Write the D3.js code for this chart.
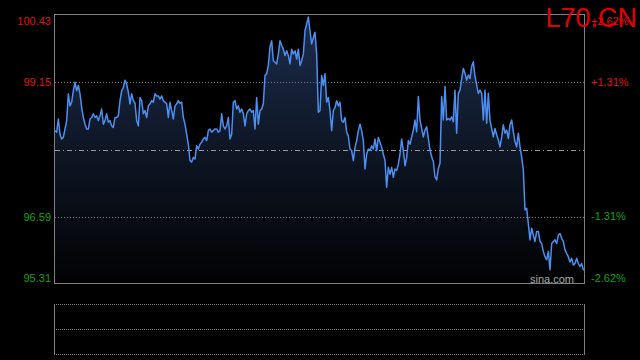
<!DOCTYPE html>
<html>
<head>
<meta charset="utf-8">
<script src="https://cdn.jsdelivr.net/npm/d3@7"></script>
<style>
  html, body { margin: 0; padding: 0; background: #000; }
  svg { display: block; font-family: Arial, "Liberation Sans", sans-serif; }
</style>
</head>
<body>
<script>
// Chart data (intraday price)
var symbol = "L70.CN";
var prevClose = 97.87;
var priceTicks = [100.43, 99.15, 97.87, 96.59, 95.31];
var pctTicks = ["+2.62%", "+1.31%", "", "-1.31%", "-2.62%"];

var prices = [
  98.23, 98.20, 98.45, 98.16, 98.07, 98.10, 98.26, 98.42, 98.93, 98.70,
  98.77, 98.99, 99.15, 98.99, 99.09, 98.93, 98.67, 98.48, 98.35, 98.26,
  98.26, 98.45, 98.48, 98.55, 98.48, 98.51, 98.42, 98.51, 98.64, 98.35,
  98.42, 98.55, 98.39, 98.42, 98.32, 98.29, 98.48, 98.48, 98.51, 98.80,
  98.99, 99.05, 99.19, 99.12, 98.96, 98.74, 98.93, 98.80, 98.75, 98.42,
  98.32, 98.86, 98.80, 98.55, 98.61, 98.48, 98.70, 98.74, 98.80, 98.77,
  98.93, 98.89, 98.89, 98.83, 98.89, 98.80, 98.77, 98.74, 98.48, 98.77,
  98.61, 98.45, 98.70, 98.74, 98.80, 98.75, 98.77, 98.48, 98.35, 98.16,
  97.97, 97.66, 97.63, 97.72, 97.69, 97.94, 97.88, 97.97, 98.01, 98.07,
  98.10, 98.04, 98.23, 98.26, 98.20, 98.23, 98.26, 98.26, 98.20, 98.23,
  98.55, 98.32, 98.26, 98.32, 98.48, 98.07, 98.16, 98.77, 98.80,
  // second part
  98.64, 98.70, 98.58, 98.64, 98.55, 98.32, 98.55, 98.61, 98.64, 98.58,
  98.61, 98.26, 98.86, 98.35, 98.61, 98.64, 98.74, 99.28, 99.31, 99.47,
  99.82, 99.94, 99.56, 99.53, 99.50, 99.69, 99.94, 99.85, 99.78, 99.66,
  99.75, 99.66, 99.50, 99.78, 99.69, 99.75, 99.59, 99.78, 99.47, 99.56,
  99.69, 100.13, 100.26, 100.39, 100.13, 99.88, 100.00, 100.10, 99.69, 98.58,
  98.61, 99.28, 99.09, 99.31, 98.77, 98.86, 98.61, 98.23, 98.61, 98.67,
  98.80, 98.70, 98.77, 98.42, 98.39, 98.48, 98.20, 98.13, 97.88, 97.85,
  97.66, 97.91, 98.04, 98.23, 98.35, 98.23, 98.04, 97.50, 97.78, 97.88,
  97.85, 97.94, 97.88, 98.07, 97.85, 98.10, 98.01, 97.91, 97.78, 97.66,
  97.15, 97.53, 97.40, 97.53, 97.34, 97.50, 97.47, 97.59, 97.78, 98.07,
  97.85, 97.56, 97.72, 98.04, 97.97,
  // third part
  98.11, 98.24, 98.43, 98.21, 98.88, 98.43, 98.27, 98.11, 98.24, 98.30,
  98.08, 97.86, 97.73, 97.64, 97.35, 97.29, 97.51, 97.61, 98.88, 98.43,
  99.07, 98.43, 98.46, 98.43, 98.49, 98.40, 99.00, 98.18, 98.94, 99.00,
  99.22, 99.41, 99.32, 99.19, 99.29, 99.22, 99.45, 99.54, 99.26, 99.10,
  98.94, 99.00, 98.94, 98.43, 99.00, 98.37, 98.94, 98.43, 98.27, 98.11,
  98.27, 98.15, 98.05, 97.92, 98.11, 98.34, 98.18, 98.24, 98.08, 98.34,
  98.43, 98.21, 98.02, 97.92, 98.18, 97.92, 97.73, 97.48, 96.72, 96.75,
  96.46, 96.15, 96.37, 96.24, 96.12, 96.31, 96.31, 96.12, 96.08, 95.93,
  95.83, 95.77, 95.93, 95.58, 96.08, 96.12, 96.15, 96.08, 96.24, 96.27,
  96.18, 96.12, 95.96, 95.89, 95.83, 95.73, 95.80, 95.67, 95.70, 95.80,
  95.70, 95.64, 95.70, 95.58, 95.58
];

var svgWidth = 640;
var svgHeight = 360;

var chartMargin = { top: 15, left: 55, right: 55, bottom: 76 };
var chartWidth = svgWidth - chartMargin.left - chartMargin.right;   // 530
var chartHeight = svgHeight - chartMargin.top - chartMargin.bottom; // 269

var svg = d3.select("body")
  .append("svg")
  .attr("width", svgWidth)
  .attr("height", svgHeight);

svg.append("rect")
  .attr("width", svgWidth)
  .attr("height", svgHeight)
  .attr("fill", "#000");

var defs = svg.append("defs");
var grad = defs.append("linearGradient")
  .attr("id", "areaFill")
  .attr("x1", 0).attr("y1", 0).attr("x2", 0).attr("y2", 1);
grad.append("stop").attr("offset", "0%").attr("stop-color", "#1c2d4e");
grad.append("stop").attr("offset", "45%").attr("stop-color", "#0f1828");
grad.append("stop").attr("offset", "100%").attr("stop-color", "#020203");

var chartGroup = svg.append("g")
  .attr("transform", `translate(${chartMargin.left}, ${chartMargin.top})`);

var xScale = d3.scaleLinear()
  .domain([0, prices.length - 1])
  .range([0, chartWidth]);

var yScale = d3.scaleLinear()
  .domain([priceTicks[priceTicks.length - 1], priceTicks[0]])
  .range([chartHeight, 0]);

// area under line
var area = d3.area()
  .x((d, i) => xScale(i))
  .y0(chartHeight)
  .y1(d => yScale(d));

chartGroup.append("path")
  .datum(prices)
  .attr("d", area)
  .attr("fill", "url(#areaFill)");

// grid lines
priceTicks.slice(1, -1).forEach(function(p) {
  var y = Math.round(yScale(p)) + 0.5;
  chartGroup.append("line")
    .attr("x1", 0).attr("x2", chartWidth)
    .attr("y1", y).attr("y2", y)
    .attr("stroke", p === prevClose ? "#9a9a9a" : "#7a7a7a")
    .attr("stroke-width", 1)
    .attr("stroke-dasharray", p === prevClose ? "5,3,1,3" : "1,2");
});

// price line
var line = d3.line()
  .x((d, i) => xScale(i))
  .y(d => yScale(d));

chartGroup.append("path")
  .datum(prices)
  .attr("d", line)
  .attr("fill", "none")
  .attr("stroke", "#4d8ff0")
  .attr("stroke-width", 1.5)
  .attr("stroke-linejoin", "round");

// frame
chartGroup.append("rect")
  .attr("x", -0.5).attr("y", -0.5)
  .attr("width", chartWidth).attr("height", chartHeight)
  .attr("fill", "none")
  .attr("stroke", "#808080")
  .attr("stroke-width", 1);

// left price labels
var leftAxis = d3.axisLeft(yScale)
  .tickValues(priceTicks.filter(p => p !== prevClose))
  .tickSize(0)
  .tickPadding(4)
  .tickFormat(d3.format(".2f"));

var gLeft = chartGroup.append("g").call(leftAxis);
gLeft.select(".domain").remove();
gLeft.selectAll("text")
  .attr("font-size", 11)
  .attr("font-family", "Arial, 'Liberation Sans', sans-serif")
  .attr("fill", d => d > prevClose ? "#e01010" : "#10a010")
  .attr("dy", (d, i) => i === 0 ? "0.9em" : (d === priceTicks[priceTicks.length - 1] ? "-0.2em" : "0.32em"));

// right percent labels
var gRight = chartGroup.append("g")
  .attr("transform", `translate(${chartWidth + 6}, 0)`);
gRight.selectAll("text")
  .data(priceTicks.map((p, i) => ({ p: p, label: pctTicks[i] })).filter(d => d.label))
  .enter()
  .append("text")
  .attr("y", d => yScale(d.p))
  .attr("dy", (d, i, arr) => i === 0 ? "0.9em" : (i === arr.length - 1 ? "-0.2em" : "0.32em"))
  .attr("font-size", 11)
  .attr("fill", d => d.p > prevClose ? "#e01010" : "#10a010")
  .text(d => d.label);

// watermark
chartGroup.append("text")
  .attr("x", chartWidth - 11)
  .attr("y", chartHeight - 1.5)
  .attr("text-anchor", "end")
  .attr("font-size", 11)
  .attr("fill", "#a8a8a8")
  .text("sina.com");

// symbol title (overlaps the +2.62% label, as in the original)
svg.append("text")
  .attr("x", 637)
  .attr("y", 27)
  .attr("text-anchor", "end")
  .attr("font-size", 27)
  .attr("fill", "#e00000")
  .text(symbol);

// volume panel (empty)
var volTop = 304.5, volBottom = 354.5;
var volGroup = svg.append("g");
[volTop, (volTop + volBottom) / 2, volBottom].forEach(function(y) {
  volGroup.append("line")
    .attr("x1", chartMargin.left - 1).attr("x2", chartMargin.left + chartWidth)
    .attr("y1", y).attr("y2", y)
    .attr("stroke", "#7a7a7a")
    .attr("stroke-dasharray", "1,1");
});
[chartMargin.left - 0.5, chartMargin.left + chartWidth - 0.5].forEach(function(x) {
  volGroup.append("line")
    .attr("x1", x).attr("x2", x)
    .attr("y1", volTop).attr("y2", volBottom)
    .attr("stroke", "#808080");
});
</script>
</body>
</html>
